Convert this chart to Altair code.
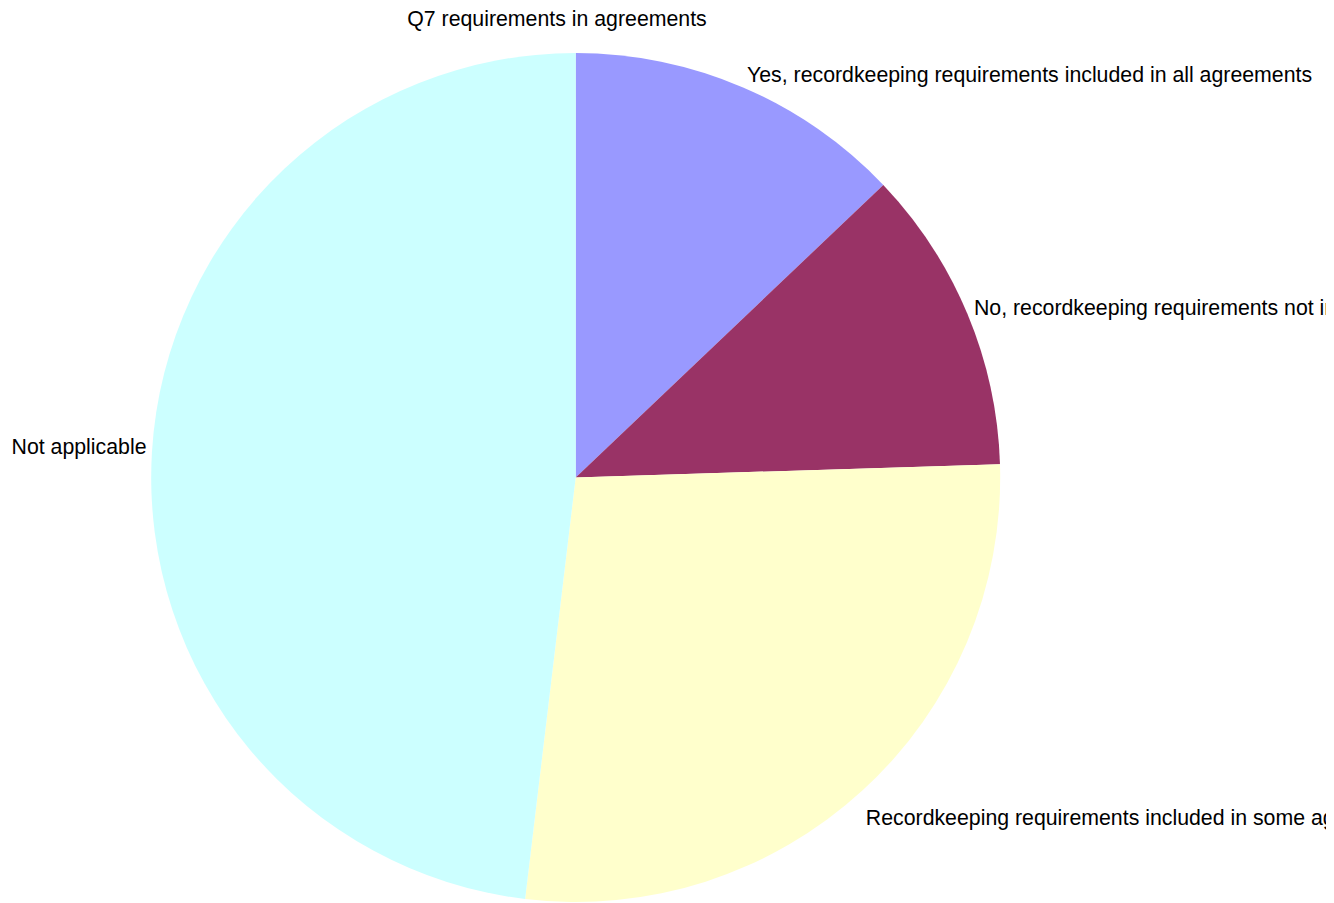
import altair as alt
import pandas as pd

categories = [
    "Yes, recordkeeping requirements included in all agreements",
    "No, recordkeeping requirements not included in agreements",
    "Recordkeeping requirements included in some agreements",
    "Not applicable",
]
values = [12.9, 11.6, 27.4, 48.1]
colors = ["#9999FF", "#993366", "#FFFFCC", "#CCFFFF"]
slice_order = [0, 1, 2, 3]

df = pd.DataFrame({
    "category": categories,
    "value": values,
    "idx": slice_order,
})

cx, cy = 567.7, 435.5
FONT = "Liberation Sans"
FS = 21.3

base = alt.Chart(df).encode(
    theta=alt.Theta("value:Q", stack=True),
    order=alt.Order("idx:O"),
    detail="category:N",
)

pie = base.mark_arc(radius=424.5, strokeWidth=0).encode(
    color=alt.Color("category:N", scale=alt.Scale(domain=categories, range=colors), legend=None),
    x=alt.value(cx),
    y=alt.value(cy),
)

labels = base.mark_text(
    radius=437,
    fontSize=FS,
    font=FONT,
    baseline="middle",
    color="black",
    align=alt.ExprRef("datum.idx == 3 ? 'right' : 'left'"),
    dx=alt.ExprRef("datum.idx == 3 ? 7 : (datum.idx == 0 ? -1 : -5)"),
    dy=alt.ExprRef("datum.idx == 3 ? -3.5 : (datum.idx == 2 ? 19 : 0)"),
).encode(
    text="category:N",
    x=alt.value(cx),
    y=alt.value(cy),
)

chart = alt.layer(pie, labels).properties(
    width=1098,
    height=861,
    autosize=alt.AutoSizeParams(type="none"),
    padding={"left": 0, "top": 34, "right": 220, "bottom": 0},
    title=alt.Title(
        "Q7 requirements in agreements",
        fontSize=FS,
        font=FONT,
        fontWeight="normal",
        anchor="middle",
        frame="group",
        offset=12,
        color="black",
    ),
).configure_view(strokeWidth=0)

chart.save("out.html", embed_options={"renderer": "svg", "actions": False})
